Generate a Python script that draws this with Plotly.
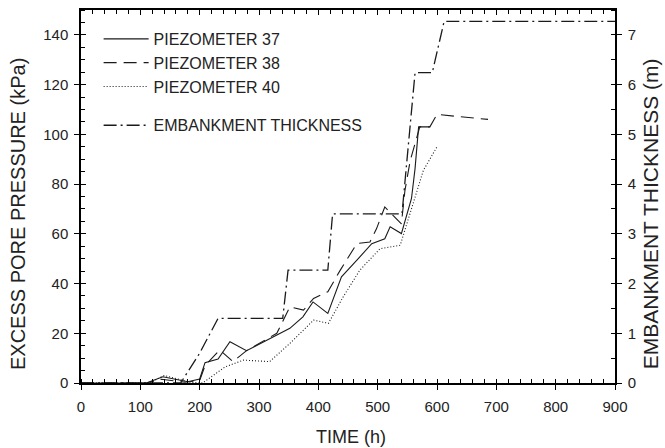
import plotly.graph_objects as go

# ---- data ----
t37 = [0, 110, 138, 180, 200, 209, 231, 251, 279, 298, 324, 352, 374, 391, 416, 439, 465, 490, 512, 521, 540, 557, 563, 566, 569, 588]
p37 = [0, 0, 2.5, 0.5, 1.6, 8.2, 9.6, 16.6, 13, 15.3, 18.6, 22, 26.6, 32.6, 28, 42.7, 49.4, 56, 58, 62.8, 60.1, 74.2, 86.2, 94.3, 103, 103]

t38 = [0, 110, 135, 175, 200, 209, 234, 256, 279, 330, 352, 375, 392, 416, 437, 465, 487, 498, 512, 540, 546, 555, 571, 588, 600, 686]
p38 = [0, 0, 1.5, 0.3, 1, 7, 13.3, 8.6, 13, 20, 30.6, 29.3, 34, 36.7, 45.4, 56.1, 56.7, 62, 70.8, 64, 77.5, 89.6, 103, 103, 108, 106]

t40 = [0, 115, 140, 185, 205, 243, 274, 318, 352, 392, 417, 442, 470, 504, 538, 563, 577, 600]
p40 = [0, 0, 3, 0.3, 0, 6.5, 9.2, 8.6, 15.9, 25.3, 24, 34.7, 45.4, 54, 55.4, 74.8, 85.5, 95]

t_emb = [0, 168, 200, 231, 340, 349, 416, 424, 541, 563, 592, 612, 900]
h_emb = [0, 0, 0.6, 1.3, 1.3, 2.27, 2.27, 3.4, 3.4, 6.24, 6.24, 7.27, 7.27]

names = ["PIEZOMETER 37", "PIEZOMETER 38", "PIEZOMETER 40", "EMBANKMENT THICKNESS"]
titles = {"x": "TIME (h)", "y": "EXCESS PORE PRESSURE (kPa)", "y2": "EMBANKMENT THICKNESS (m)"}
x_ticks = list(range(0, 901, 100))
y_ticks = list(range(0, 141, 20))
y2_ticks = list(range(0, 8))

FONT = "Liberation Sans, Arial, sans-serif"
LC = "#1a1a1a"
TC = "#222"

fig = go.Figure()
fig.add_trace(go.Scatter(x=t37, y=p37, mode="lines", name=names[0], legendgroup="p",
                         line=dict(color=LC, width=1.1, dash="solid")))
fig.add_trace(go.Scatter(x=t38, y=p38, mode="lines", name=names[1], legendgroup="p",
                         line=dict(color=LC, width=1.1, dash="13px,7px")))
fig.add_trace(go.Scatter(x=t40, y=p40, mode="lines", name=names[2], legendgroup="p",
                         line=dict(color=LC, width=1.1, dash="1px,2px")))
fig.add_trace(go.Scatter(x=t_emb, y=h_emb, mode="lines", name=names[3], legendgroup="e",
                         yaxis="y2",
                         line=dict(color=LC, width=1.3, dash="13px,4px,2px,4px")))
# empty trace to anchor helper tick axes
fig.add_trace(go.Scatter(x=[], y=[], xaxis="x2", yaxis="y3", showlegend=False))

ax_common = dict(showline=True, linecolor="black", linewidth=1.5, showgrid=False,
                 zeroline=False, tickcolor="black", tickwidth=1, automargin=False,
                 tickfont=dict(family=FONT, size=15, color=TC))

fig.update_layout(
    width=665, height=448,
    margin=dict(l=81, r=50, t=10, b=65),
    paper_bgcolor="white", plot_bgcolor="white",
    font=dict(family=FONT, color=TC),
    showlegend=True,
    legend=dict(x=0.033, y=0.968, xanchor="left", yanchor="top",
                font=dict(family=FONT, size=16, color=TC),
                bgcolor="rgba(0,0,0,0)", traceorder="grouped",
                tracegroupgap=15, itemwidth=45),
    xaxis=dict(range=[0, 900], tickvals=x_ticks, ticks="outside", ticklen=5,
               ticklabelstandoff=4,
               minor=dict(dtick=20, ticks="inside", ticklen=4, tickcolor="black"),
               mirror=True, **ax_common),
    yaxis=dict(range=[0, 150], tickvals=y_ticks, ticks="outside", ticklen=5,
               ticklabelstandoff=3,
               minor=dict(dtick=5, ticks="inside", ticklen=4, tickcolor="black"),
               **ax_common),
    yaxis2=dict(range=[0, 7.5], tickvals=y2_ticks, ticks="outside", ticklen=5,
                ticklabelstandoff=3,
                overlaying="y", side="right", anchor="x",
                minor=dict(dtick=0.5, ticks="inside", ticklen=4, tickcolor="black"),
                **ax_common),
    xaxis2=dict(range=[0, 900], overlaying="x", side="top", anchor="y3", automargin=False,
                tickvals=x_ticks, ticks="inside", ticklen=5, showticklabels=False,
                minor=dict(dtick=20, ticks="inside", ticklen=4, tickcolor="black"),
                showline=False, showgrid=False, zeroline=False, tickcolor="black"),
    yaxis3=dict(range=[0, 150], overlaying="y", side="left", anchor="x2", automargin=False,
                tickvals=y_ticks, ticks="inside", ticklen=5, showticklabels=False,
                showline=False, showgrid=False, zeroline=False, tickcolor="black"),
    annotations=[
        dict(text=titles["x"], xref="paper", yref="paper", x=0.5056, y=-0.145,
             xanchor="center", yanchor="middle", showarrow=False,
             font=dict(family=FONT, size=18, color=TC)),
        dict(text=titles["y"], xref="paper", yref="paper", x=-0.118, y=0.453,
             xanchor="center", yanchor="middle", showarrow=False, textangle=-90,
             font=dict(family=FONT, size=20, color=TC)),
        dict(text=titles["y2"], xref="paper", yref="paper", x=1.0655, y=0.455,
             xanchor="center", yanchor="middle", showarrow=False, textangle=-90,
             font=dict(family=FONT, size=21, color=TC)),
    ],
)

fig.write_html("out.html")
